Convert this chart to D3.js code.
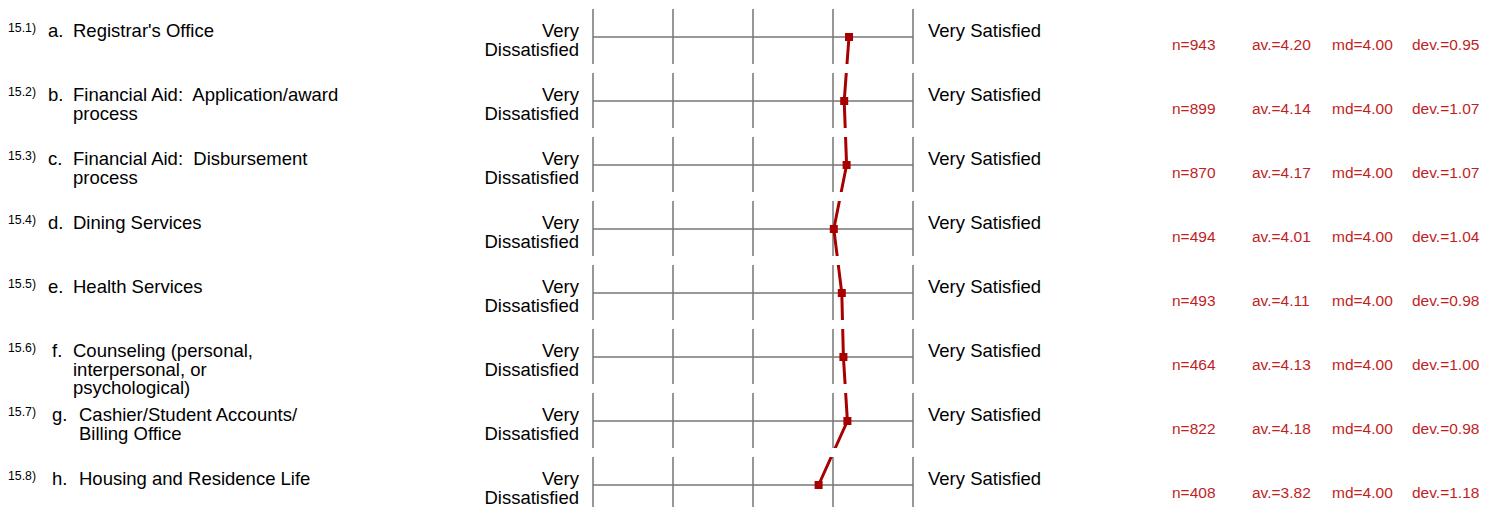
<!DOCTYPE html>
<html>
<head>
<meta charset="utf-8">
<script src="https://cdn.jsdelivr.net/npm/d3@7"></script>
<style>
html,body{margin:0;padding:0;background:#fff;}
svg{display:block;}
text{font-family:"Liberation Sans",Arial,Helvetica,sans-serif;white-space:pre;}
</style>
</head>
<body>
<svg id="chart" width="1498" height="507"></svg>
<script>
const codes = ["15.1)","15.2)","15.3)","15.4)","15.5)","15.6)","15.7)","15.8)"];
const letters = ["a.","b.","c.","d.","e.","f.","g.","h."];
const labels = [
  ["Registrar's Office"],
  ["Financial Aid:  Application/award","process"],
  ["Financial Aid:  Disbursement","process"],
  ["Dining Services"],
  ["Health Services"],
  ["Counseling (personal,","interpersonal, or","psychological)"],
  ["Cashier/Student Accounts/","Billing Office"],
  ["Housing and Residence Life"]
];
const leftAnchor = ["Very","Dissatisfied"];
const rightAnchor = "Very Satisfied";
const scaleTicks = [1,2,3,4,5];
const nVals = [943,899,870,494,493,464,822,408];
const avVals = [4.20,4.14,4.17,4.01,4.11,4.13,4.18,3.82];
const mdVals = [4.00,4.00,4.00,4.00,4.00,4.00,4.00,4.00];
const devVals = [0.95,1.07,1.07,1.04,0.98,1.00,0.98,1.18];

const svg = d3.select("#chart");
const x = d3.scaleLinear().domain([1,5]).range([593,913]);
const y = d3.scaleLinear().domain([0,codes.length-1]).range([37,485]);
const rows = d3.range(codes.length);

const gridColor = "#767676";
const markColor = "#a80000";
const statColor = "#bf1e24";
const tickUp = 28, tickDown = 27;
const fs = 18.5;

// clip path so the profile line breaks between rows
const defs = svg.append("defs");
const clip = defs.append("clipPath").attr("id","rowsClip");
clip.selectAll("rect").data(rows).join("rect")
  .attr("x",0).attr("width",1498)
  .attr("y",i=>y(i)-tickUp).attr("height",tickUp+tickDown);

// left labels
const lbl = svg.append("g");
rows.forEach(i=>{
  const cy = y(i);
  lbl.append("text").attr("x",8).attr("y",cy-5).attr("font-size",12.3).attr("fill","#000").text(codes[i]);
  const lx = i>=5 ? 52 : 48;
  const tx = i>=6 ? 79 : 73;
  lbl.append("text").attr("x",lx).attr("y",cy).attr("font-size",fs).attr("fill","#000").text(letters[i]);
  labels[i].forEach((s,k)=>{
    lbl.append("text").attr("x",tx).attr("y",cy+k*18.5).attr("font-size",fs).attr("fill","#000").text(s);
  });
  leftAnchor.forEach((s,k)=>{
    lbl.append("text").attr("x",579).attr("y",cy+k*19).attr("text-anchor","end")
      .attr("font-size",fs).attr("fill","#000").text(s);
  });
  lbl.append("text").attr("x",x(5)+15).attr("y",cy).attr("font-size",fs).attr("fill","#000").text(rightAnchor);
});

// grid
const grid = svg.append("g");
rows.forEach(i=>{
  const cy = y(i);
  grid.append("line").attr("x1",x(1)).attr("x2",x(5)).attr("y1",cy).attr("y2",cy)
    .attr("stroke",gridColor).attr("stroke-width",1.5);
  grid.selectAll(null).data(scaleTicks).join("line")
    .attr("x1",d=>x(d)).attr("x2",d=>x(d))
    .attr("y1",cy-tickUp).attr("y2",cy+tickDown)
    .attr("stroke",gridColor).attr("stroke-width",1.5);
});

// profile line
const line = d3.line().x(i=>x(avVals[i])).y(i=>y(i));
svg.append("path").datum(rows).attr("d",line)
  .attr("fill","none").attr("stroke",markColor).attr("stroke-width",3)
  .attr("clip-path","url(#rowsClip)");

// markers
svg.selectAll("rect.mk").data(rows).join("rect").attr("class","mk")
  .attr("x",i=>x(avVals[i])-4).attr("y",i=>y(i)-4)
  .attr("width",8).attr("height",8).attr("fill",markColor);

// stats
const st = svg.append("g").attr("fill",statColor).attr("font-size",15.5);
rows.forEach(i=>{
  const by = y(i)+13;
  st.append("text").attr("x",1172).attr("y",by).text("n="+nVals[i]);
  st.append("text").attr("x",1252).attr("y",by).text("av.="+avVals[i].toFixed(2));
  st.append("text").attr("x",1332).attr("y",by).text("md="+mdVals[i].toFixed(2));
  st.append("text").attr("x",1412).attr("y",by).text("dev.="+devVals[i].toFixed(2));
});
</script>
</body>
</html>
